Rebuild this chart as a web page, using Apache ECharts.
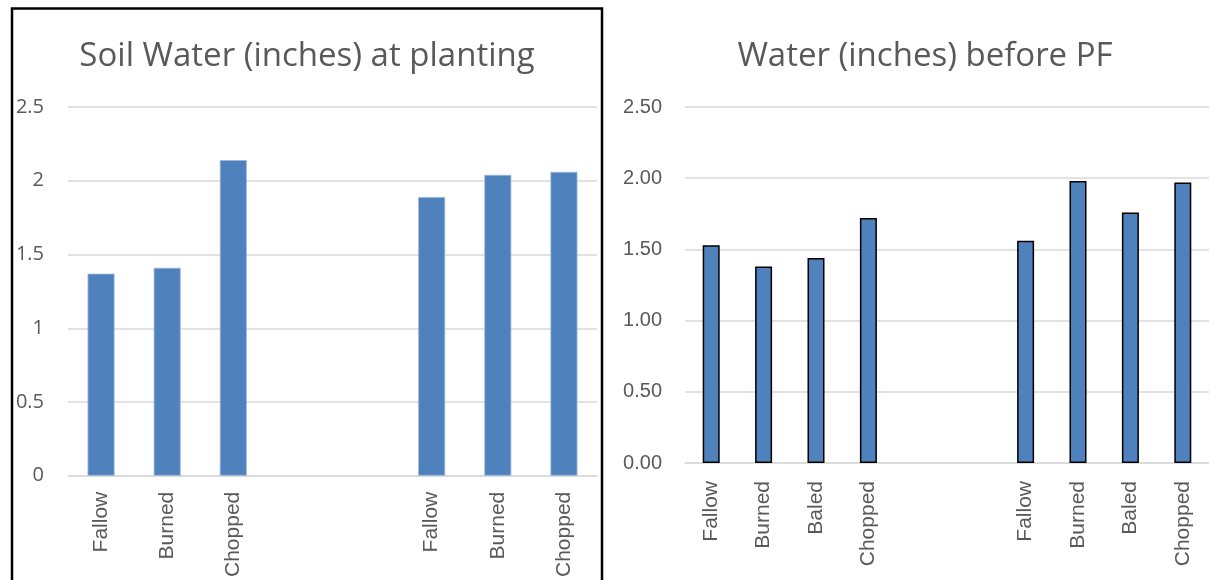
<!DOCTYPE html>
<html>
<head>
<meta charset="utf-8">
<style>
  html, body { margin: 0; padding: 0; background: #ffffff; }
  #chart { width: 1209px; height: 580px; }
</style>
<script src="https://cdn.jsdelivr.net/npm/echarts@6/dist/echarts.min.js"></script>
</head>
<body>
<div id="chart"></div>
<script>
// Soil water at planting (left panel): two groups of treatments separated by blank slots
const plantingCategories = ['Fallow', 'Burned', 'Chopped', '', '', 'Fallow', 'Burned', 'Chopped'];
const plantingWater = [1.37, 1.41, 2.14, null, null, 1.89, 2.04, 2.06];

// Water before PF (right panel)
const beforePFCategories = ['Fallow', 'Burned', 'Baled', 'Chopped', '', '', 'Fallow', 'Burned', 'Baled', 'Chopped'];
const beforePFWater = [1.53, 1.38, 1.44, 1.72, null, null, 1.56, 1.98, 1.76, 1.97];

const plantingTicks = ['0', '0.5', '1', '1.5', '2', '2.5'];
const beforePFTicks = ['0.00', '0.50', '1.00', '1.50', '2.00', '2.50'];

const textGray = '#595959';
const gridGray = '#d9d9d9';
const barBlue = '#4f81bd';

const chart = echarts.init(document.getElementById('chart'), null, { renderer: 'canvas' });

chart.setOption({
  animation: false,
  backgroundColor: '#ffffff',
  title: [
    {
      text: 'Soil Water (inches) at planting',
      left: 307, top: 40, textAlign: 'center', padding: 0,
      textStyle: { fontFamily: 'Open Sans', fontWeight: 'normal', fontSize: 33, color: textGray }
    },
    {
      text: 'Water (inches) before PF',
      left: 925, top: 40, textAlign: 'center', padding: 0,
      textStyle: { fontFamily: 'Open Sans', fontWeight: 'normal', fontSize: 33, color: textGray }
    }
  ],
  graphic: [
    {
      type: 'rect', z: 100, silent: true,
      shape: { x: 12, y: 8.5, width: 590, height: 620 },
      style: { fill: 'none', stroke: '#000000', lineWidth: 2.5 }
    }
  ],
  grid: [
    { left: 68, top: 107, width: 529, height: 370 },
    { left: 685, top: 107, width: 533, height: 356 }
  ],
  xAxis: [
    {
      type: 'category', gridIndex: 0, data: plantingCategories,
      axisTick: { show: false },
      axisLine: { lineStyle: { color: gridGray, width: 1.5 } },
      axisLabel: { interval: 0, rotate: 90, margin: 16, color: textGray, fontFamily: 'Liberation Sans', fontSize: 21 }
    },
    {
      type: 'category', gridIndex: 1, data: beforePFCategories,
      axisTick: { show: false },
      axisLine: { lineStyle: { color: gridGray, width: 1.5 } },
      axisLabel: { interval: 0, rotate: 90, margin: 18, color: textGray, fontFamily: 'Liberation Sans', fontSize: 21 }
    }
  ],
  yAxis: [
    {
      type: 'value', gridIndex: 0, min: 0, max: 2.5, interval: 0.5,
      axisLine: { show: false }, axisTick: { show: false },
      splitLine: { lineStyle: { color: gridGray, width: 1.5 } },
      axisLabel: {
        margin: 24, color: textGray, fontFamily: 'Open Sans', fontSize: 20,
        formatter: (v) => plantingTicks[Math.round(v / 0.5)]
      }
    },
    {
      type: 'value', gridIndex: 1, min: 0, max: 2.5, interval: 0.5,
      axisLine: { show: false }, axisTick: { show: false },
      splitLine: { lineStyle: { color: gridGray, width: 1.5 } },
      axisLabel: {
        margin: 23, color: textGray, fontFamily: 'Liberation Sans', fontSize: 20,
        formatter: (v) => beforePFTicks[Math.round(v / 0.5)]
      }
    }
  ],
  series: [
    {
      type: 'bar', xAxisIndex: 0, yAxisIndex: 0, data: plantingWater,
      barWidth: 27,
      itemStyle: { color: barBlue, borderColor: '#9db8dc', borderWidth: 0.8 }
    },
    {
      type: 'bar', xAxisIndex: 1, yAxisIndex: 1, data: beforePFWater,
      barWidth: 17,
      itemStyle: { color: barBlue, borderColor: '#000000', borderWidth: 1.5 }
    }
  ]
});
</script>
</body>
</html>
